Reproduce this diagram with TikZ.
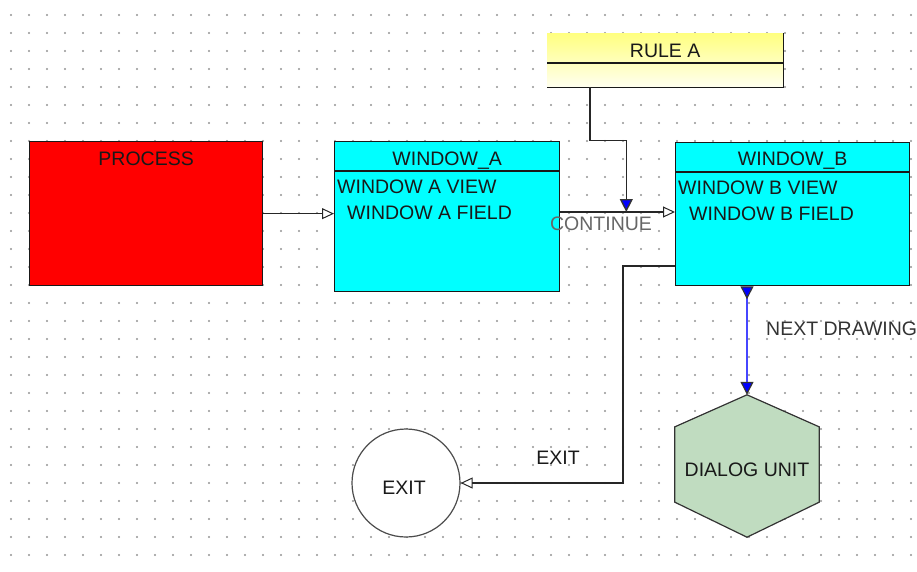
\documentclass[tikz,border=0pt]{standalone}
\usepackage{fontspec}
\setmainfont{Liberation Sans}
\usetikzlibrary{arrows.meta,calc}
\definecolor{wincyan}{RGB}{0,255,255}
\definecolor{dialoggreen}{RGB}{192,220,192}
\definecolor{linkblue}{RGB}{70,70,255}
\newcommand{\diagfont}{\fontsize{19.5}{20}\selectfont}
\tikzset{
  griddot/.style={fill=gray!85},
  boxedge/.style={draw=black!90, line width=1.3pt},
  procbox/.style={boxedge, fill=red, rectangle, inner sep=0pt, anchor=north west},
  winbox/.style={boxedge, fill=wincyan, rectangle, inner sep=0pt, anchor=north west},
  rulebox/.style={top color=yellow!50, bottom color=yellow!6, rectangle, inner sep=0pt, anchor=north west},
  exitnode/.style={circle, draw=black!70, line width=1.2pt, fill=white, minimum size=108pt, inner sep=0pt},
  dialogfill/.style={fill=dialoggreen, draw=black!80, line width=1.2pt},
  lbl/.style={font=\diagfont, inner sep=0pt, text height=14pt, text depth=0pt, text=black!90},
  flow/.style={draw=black!85, line width=1.4pt},
  openhead/.style={-{Triangle[open, length=12pt, width=11pt, line width=1pt]}},
  bluehead/.style={-{Triangle[length=13pt, width=13pt, color=black!80, fill=blue]}},
  blueflow/.style={draw=linkblue, line width=1.2pt},
}

\begin{document}
\begin{tikzpicture}[x=1pt, y=-1pt]
  \useasboundingbox (0,0) rectangle (917,571);
  % dotted grid
  \foreach \gx in {11,29,...,911}
    \foreach \gy in {15,33,...,555}
      { \fill[griddot] (\gx,\gy) circle (1.1pt); }

  % process box
  \node[procbox, minimum width=233, minimum height=144] (process) at (29,141) {};
  \node[lbl] at ($(process.north)+(0,17)$) {PROCESS};

  % window A
  \node[winbox, minimum width=225, minimum height=150] (winA) at (334,141) {};
  \draw[boxedge] ($(winA.north west)+(0,30)$) -- ($(winA.north east)+(0,30)$);
  \node[lbl] at ($(winA.north)+(0,17)$) {WINDOW\_A};
  \node[lbl, anchor=west] at ($(winA.north west)+(3,45)$) {WINDOW A VIEW};
  \node[lbl, anchor=west] at ($(winA.north west)+(13,71)$) {WINDOW A FIELD};

  % window B
  \node[winbox, minimum width=234, minimum height=143] (winB) at (675,142) {};
  \draw[boxedge] ($(winB.north west)+(0,30)$) -- ($(winB.north east)+(0,30)$);
  \node[lbl] at ($(winB.north)+(0,16)$) {WINDOW\_B};
  \node[lbl, anchor=west] at ($(winB.north west)+(3,45)$) {WINDOW B VIEW};
  \node[lbl, anchor=west] at ($(winB.north west)+(14,71)$) {WINDOW B FIELD};

  % rule A (edges only on right and bottom)
  \node[rulebox, minimum width=236, minimum height=54] (ruleA) at (547,33) {};
  \draw[boxedge] ($(ruleA.north west)+(0,30)$) -- ($(ruleA.north east)+(0,30)$);
  \draw[boxedge] (ruleA.north east) -- (ruleA.south east) -- (ruleA.south west);
  \node[lbl] at ($(ruleA.north)+(0,17)$) {RULE A};

  % exit and dialog unit
  \node[exitnode] (exitpt) at (406,483) {};
  \node[lbl] at ($(exitpt.center)+(-2,4)$) {EXIT};
  \node[minimum width=144, minimum height=142, inner sep=0pt] (dialog) at (747,466) {};
  \draw[dialogfill] (dialog.north)
    -- ($(dialog.north east)!0.225!(dialog.south east)$)
    -- ($(dialog.north east)!0.754!(dialog.south east)$)
    -- (dialog.south)
    -- ($(dialog.north west)!0.754!(dialog.south west)$)
    -- ($(dialog.north west)!0.225!(dialog.south west)$) -- cycle;
  \node[lbl] at ($(dialog.center)+(0,3)$) {DIALOG UNIT};

  % connectors
  \draw[flow, openhead] (process.east) -- (process.east -| winA.west);
  \coordinate (contA) at ($(winA.north east)+(0,71)$);
  \draw[flow, openhead] (contA) -- (contA -| winB.west);
  \node[lbl, text=black!60] (contlbl) at (601,223) {CONTINUE};
  \coordinate (ruleout) at ($(ruleA.south west)+(43,0)$);
  \coordinate (join) at ($(contA)+(66,0)$);
  \draw[flow, bluehead] (ruleout) -- ++(0,53) -| (join);
  \coordinate (bout) at ($(winB.north west)+(0,124)$);
  \draw[flow, openhead] (bout) -- ++(-52,0) |- (exitpt.east);
  \node[lbl] (exitlbl) at (558,457) {EXIT};
  \coordinate (bdown) at ($(winB.south west)+(72,0)$);
  \draw[blueflow, {Triangle[reversed, length=13pt, width=13pt, color=black!80, fill=blue]}-{Triangle[length=13pt, width=13pt, color=black!80, fill=blue]}]
    (bdown) -- (bdown |- dialog.north);
  \node[lbl, anchor=west, text=black!80] (nextlbl) at (766,328) {NEXT DRAWING};
\end{tikzpicture}
\end{document}
